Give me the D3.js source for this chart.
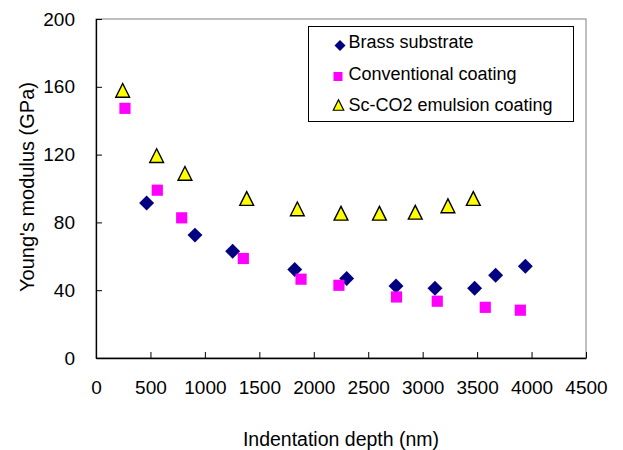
<!DOCTYPE html>
<html>
<head>
<meta charset="utf-8">
<script src="https://cdn.jsdelivr.net/npm/d3@7"></script>
<style>
  body { margin: 0; background: #fff; }
  text { font-family: "Liberation Sans", Arial, sans-serif; }
</style>
</head>
<body>
<div id="my_dataviz"></div>
<script>
// data
var brassDepth = [465, 909, 1255, 1825, 2302, 2755, 3113, 3477, 3670, 3943];
var brassModulus = [91.5, 72.5, 63.0, 52.2, 46.9, 42.5, 41.2, 41.2, 48.8, 54.1];

var convDepth = [266, 563, 787, 1353, 1883, 2231, 2760, 3134, 3575, 3897];
var convModulus = [147.3, 99.0, 82.7, 58.7, 46.5, 42.9, 36.0, 33.5, 29.9, 28.2];

var scDepth = [245, 557, 817, 1384, 1849, 2250, 2603, 2932, 3232, 3465];
var scModulus = [157.9, 119.4, 108.9, 94.1, 88.0, 85.4, 85.4, 86.0, 89.8, 94.1];

var xTicks = [0, 500, 1000, 1500, 2000, 2500, 3000, 3500, 4000, 4500];
var yTicks = [0, 40, 80, 120, 160, 200];

var seriesNames = ["Brass substrate", "Conventional coating", "Sc-CO2 emulsion coating"];

// dimensions
var margin = {top: 19, right: 37, bottom: 92, left: 96},
    width = 623 - margin.left - margin.right,
    height = 450 - margin.top - margin.bottom;

var svg = d3.select("#my_dataviz")
  .append("svg")
    .attr("width", 623)
    .attr("height", 450)
  .append("g")
    .attr("transform", "translate(" + margin.left + "," + margin.top + ")");

var x = d3.scaleLinear().domain([0, 4500]).range([0, width]);
var y = d3.scaleLinear().domain([0, 200]).range([height, 0]);

// grey plot area border (top/right)
svg.append("rect")
  .attr("x", 0).attr("y", 0)
  .attr("width", width).attr("height", height)
  .style("fill", "none")
  .style("stroke", "#808080")
  .style("stroke-width", 1);

// X axis, ticks pointing inward
var xAxis = svg.append("g")
  .attr("transform", "translate(0," + height + ")")
  .call(d3.axisBottom(x).tickValues(xTicks).tickFormat(d3.format("d"))
        .tickSize(-6).tickSizeOuter(0).tickPadding(23));
xAxis.selectAll("text").style("font-size", "19px").style("fill", "#000");

// Y axis
var yAxis = svg.append("g")
  .call(d3.axisLeft(y).tickValues(yTicks).tickFormat(d3.format("d"))
        .tickSize(-6).tickSizeOuter(0).tickPadding(21));
yAxis.selectAll("text").style("font-size", "19px").style("fill", "#000");

svg.selectAll(".domain").attr("stroke", "#000").attr("stroke-width", 1.3);
svg.selectAll(".tick line").attr("stroke", "#000");

// axis labels
svg.append("text")
  .attr("text-anchor", "middle")
  .attr("x", 341 - margin.left)
  .attr("y", 446 - margin.top)
  .style("font-size", "19.5px")
  .text("Indentation depth (nm)");

svg.append("text")
  .attr("text-anchor", "middle")
  .attr("transform", "rotate(-90)")
  .attr("x", -(187 - margin.top))
  .attr("y", 34 - margin.left)
  .style("font-size", "20px")
  .text("Young's modulus (GPa)");

// markers
var tallTriangle = {
  draw: function(context, size) {
    var h = Math.sqrt(size), w = h;
    context.moveTo(0, -h / 2);
    context.lineTo(w / 2, h / 2);
    context.lineTo(-w / 2, h / 2);
    context.closePath();
  }
};
var diamond = d3.symbol().type(d3.symbolSquare).size(112);
var square = d3.symbol().type(d3.symbolSquare).size(125);
var triangle = d3.symbol().type(tallTriangle).size(190);

var brass = brassDepth.map(function(d, i) { return {x: d, y: brassModulus[i]}; });
var conv = convDepth.map(function(d, i) { return {x: d, y: convModulus[i]}; });
var sc = scDepth.map(function(d, i) { return {x: d, y: scModulus[i]}; });

svg.append("g").selectAll("path")
  .data(brass)
  .enter()
  .append("path")
    .attr("d", diamond)
    .attr("transform", function(d) { return "translate(" + x(d.x) + "," + y(d.y) + ") rotate(45)"; })
    .style("fill", "#000080");

svg.append("g").selectAll("path")
  .data(conv)
  .enter()
  .append("path")
    .attr("d", square)
    .attr("transform", function(d) { return "translate(" + x(d.x) + "," + y(d.y) + ")"; })
    .style("fill", "#ff00ff");

svg.append("g").selectAll("path")
  .data(sc)
  .enter()
  .append("path")
    .attr("d", triangle)
    .attr("transform", function(d) { return "translate(" + x(d.x) + "," + y(d.y) + ")"; })
    .style("fill", "#ffff00")
    .style("stroke", "#000")
    .style("stroke-width", 1.4);

// legend
var legend = svg.append("g")
  .attr("transform", "translate(" + (308.5 - margin.left) + "," + (26.5 - margin.top) + ")");

legend.append("rect")
  .attr("width", 265).attr("height", 95)
  .style("fill", "#fff")
  .style("stroke", "#000")
  .style("stroke-width", 1);

var legendY = [15.5, 47, 78];

legend.append("path")
  .attr("d", d3.symbol().type(d3.symbolSquare).size(60))
  .attr("transform", "translate(31.5,19) rotate(45)")
  .style("fill", "#000080");
legend.append("path")
  .attr("d", d3.symbol().type(d3.symbolSquare).size(81))
  .attr("transform", "translate(29.5,50)")
  .style("fill", "#ff00ff");
legend.append("path")
  .attr("d", d3.symbol().type(tallTriangle).size(110))
  .attr("transform", "translate(30,78.5)")
  .style("fill", "#ffff00")
  .style("stroke", "#000")
  .style("stroke-width", 1.2);

legend.selectAll("text.lab")
  .data(seriesNames)
  .enter()
  .append("text")
    .attr("class", "lab")
    .attr("x", 40)
    .attr("y", function(d, i) { return legendY[i]; })
    .attr("dy", "0.35em")
    .style("font-size", "18px")
    .text(function(d) { return d; });
</script>
</body>
</html>
